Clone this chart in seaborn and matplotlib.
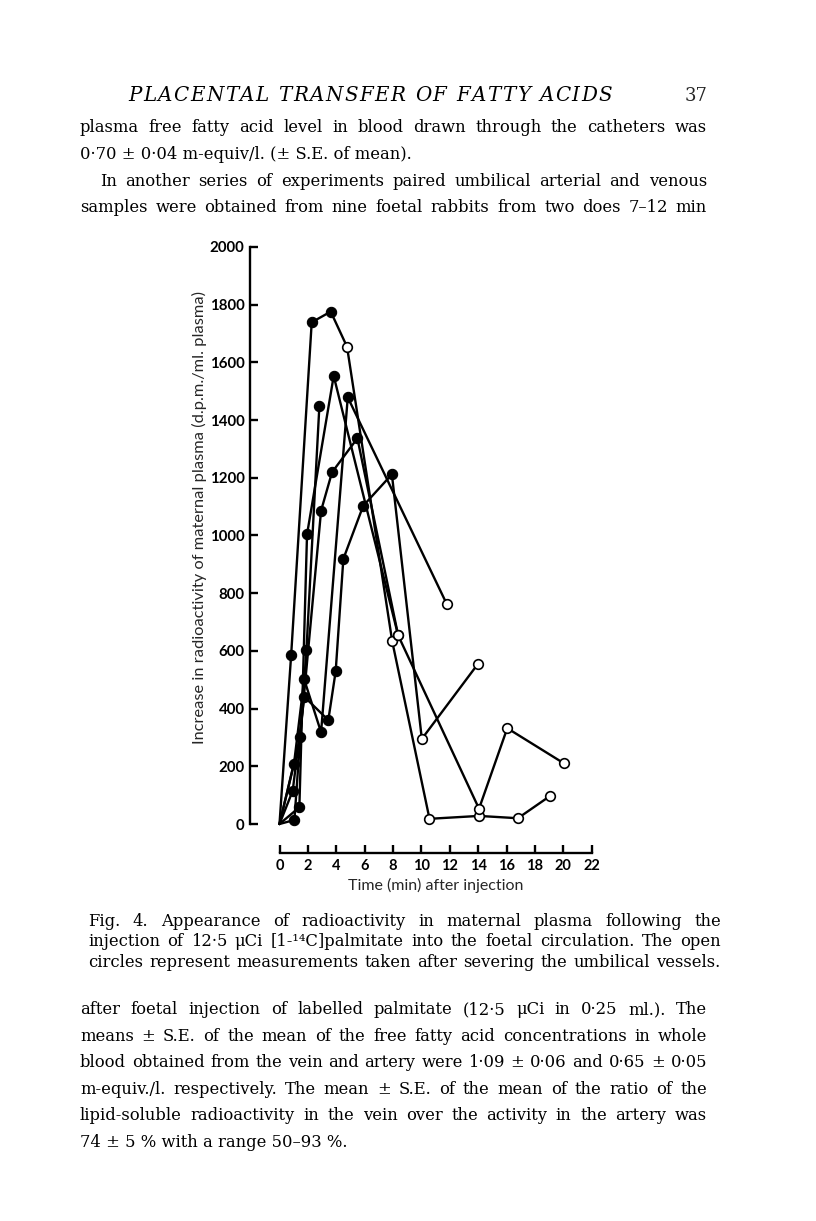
import numpy as np
import pandas as pd
import seaborn as sns
import matplotlib.pyplot as plt

# Fig. 4 values: time (min), increase in d.p.m./ml. plasma
# kind: n = no marker (origin), f = filled circle, o = open circle (cord severed)
s1_t = [0, 0.82, 2.27, 3.61, 4.76, 7.94, 10.57, 14.06, 16.8, 19.09]
s1_v = [0, 585, 1739, 1776, 1654, 634, 18, 28, 20, 98]
s1_k = ['n', 'f', 'f', 'f', 'o', 'o', 'o', 'o', 'o', 'o']

s2_t = [0, 1.05, 1.90, 2.81]
s2_v = [0, 14, 604, 1449]
s2_k = ['n', 'f', 'f', 'f']

s3_t = [0, 0.93, 1.75, 3.44, 3.96, 4.50, 5.90, 7.92, 10.03, 14.0]
s3_v = [0, 115, 441, 360, 530, 919, 1103, 1212, 295, 556]
s3_k = ['n', 'f', 'f', 'f', 'f', 'f', 'f', 'f', 'o', 'o']

s4_t = [0, 1.40, 1.94, 3.82, 8.36]
s4_v = [0, 58, 1004, 1553, 654]
s4_k = ['n', 'f', 'f', 'f', 'o']

s5_t = [0, 1.45, 2.93, 3.70, 5.49, 8.36, 14.06, 16.05, 20.05]
s5_v = [0, 300, 1086, 1219, 1337, 654, 53, 332, 210]
s5_k = ['n', 'f', 'f', 'f', 'f', 'o', 'o', 'o', 'o']

s6_t = [0, 1.02, 1.74, 2.93, 4.81, 11.8]
s6_v = [0, 208, 501, 318, 1479, 761]
s6_k = ['n', 'f', 'f', 'f', 'f', 'o']

x_ticks = list(range(0, 23, 2))
y_ticks = list(range(0, 2001, 200))

header = "PLACENTAL TRANSFER OF FATTY ACIDS"
top_lines = [
    "plasma free fatty acid level in blood drawn through the catheters was",
    "0·70 ± 0·04 m-equiv/l. (± S.E. of mean).",
    "In another series of experiments paired umbilical arterial and venous",
    "samples were obtained from nine foetal rabbits from two does 7–12 min",
]
caption_lines = [
    "Fig. 4. Appearance of radioactivity in maternal plasma following the",
    "injection of 12·5 μCi [1-¹⁴C]palmitate into the foetal circulation. The open",
    "circles represent measurements taken after severing the umbilical vessels.",
]
bottom_lines = [
    "after foetal injection of labelled palmitate (12·5 μCi in 0·25 ml.). The",
    "means ± S.E. of the mean of the free fatty acid concentrations in whole",
    "blood obtained from the vein and artery were 1·09 ± 0·06 and 0·65 ± 0·05",
    "m-equiv./l. respectively. The mean ± S.E. of the mean of the ratio of the",
    "lipid-soluble radioactivity in the vein over the activity in the artery was",
    "74 ± 5 % with a range 50–93 %.",
]

frames = []
for i, (t, v, k) in enumerate([(s1_t, s1_v, s1_k), (s2_t, s2_v, s2_k), (s3_t, s3_v, s3_k),
                               (s4_t, s4_v, s4_k), (s5_t, s5_v, s5_k), (s6_t, s6_v, s6_k)]):
    frames.append(pd.DataFrame({'animal': i, 'time': t, 'dpm': v, 'kind': k}))
df = pd.concat(frames, ignore_index=True)

sns.set_theme(style="ticks")
serif = ['DejaVu Serif']
sans = ['Lato', 'DejaVu Sans']

W, H = 816, 1221
fig = plt.figure(figsize=(W / 100, H / 100), dpi=100)
fig.patch.set_facecolor('white')

ax = fig.add_axes([279.5 / W, 1 - 824 / H, 312.2 / W, 577 / H])
ax.set_facecolor('white')

sns.lineplot(data=df, x='time', y='dpm', units='animal', estimator=None, sort=False,
             color='black', lw=1.7, ax=ax, clip_on=False, zorder=2)
sns.scatterplot(data=df[df.kind == 'f'], x='time', y='dpm', color='black', s=55,
                edgecolor='black', linewidth=0.8, ax=ax, clip_on=False, zorder=3)
sns.scatterplot(data=df[df.kind == 'o'], x='time', y='dpm', facecolor='white', s=48,
                edgecolor='black', linewidth=1.2, ax=ax, clip_on=False, zorder=3)

ax.set_xlim(0, 22)
ax.set_ylim(0, 2000)
sns.despine(ax=ax)
ax.spines['left'].set_position(('outward', 29.5 * 0.72))
ax.spines['bottom'].set_position(('outward', 29 * 0.72))
ax.spines['left'].set_bounds(0, 2000)
ax.spines['bottom'].set_bounds(0, 22)
for sp in ['left', 'bottom']:
    ax.spines[sp].set_linewidth(1.7)
    ax.spines[sp].set_color('black')

ax.set_xticks(x_ticks)
ax.set_yticks(y_ticks)
ax.tick_params(direction='in', length=6, width=1.7, colors='black', pad=4)
ax.set_xticklabels([str(v) for v in x_ticks], family=sans, fontweight='bold', fontsize=10.5)
ax.set_yticklabels([str(v) for v in y_ticks], family=sans, fontweight='bold', fontsize=10.8)
ax.set_xlabel("Time (min) after injection", family=sans, fontsize=11.5, labelpad=4)
ax.set_ylabel("Increase in radioactivity of maternal plasma (d.p.m./ml. plasma)",
              family=sans, fontsize=11.8)
ax.yaxis.set_label_coords(-0.232, 0.532)

renderer = fig.canvas.get_renderer()


def put(x, y, s, **kw):
    return fig.text(x / W, 1 - y / H, s, va='baseline', ha='left', **kw)


def text_w(s, **kw):
    t = put(0, 0, s, **kw)
    w = t.get_window_extent(renderer).width
    t.remove()
    return w


def fit_size(lines, width, **kw):
    return min(10 * width / text_w(line, fontsize=10, **kw) for line in lines)


def justify(line, x0, x1, y, **kw):
    words = line.split(' ')
    txts = [put(x0, y, w, **kw) for w in words]
    widths = [t.get_window_extent(renderer).width for t in txts]
    gap = (x1 - x0 - sum(widths)) / max(len(words) - 1, 1)
    x = x0
    for t, w in zip(txts, widths):
        t.set_x(x / W)
        x += w + gap


def spaced(line, x0, x1, y, **kw):
    # letter-spaced running head: extra tracking between every letter
    chars = list(line)
    widths = [text_w(c, **kw) if c != ' ' else 0 for c in chars]
    space = text_w('n n', **kw) - 2 * text_w('n', **kw)
    n_sp = chars.count(' ')
    track = (x1 - x0 - sum(widths) - n_sp * space) / (len(chars) - 1)
    x = x0
    for c, w in zip(chars, widths):
        if c != ' ':
            put(x, y, c, **kw)
            x += w + track
        else:
            x += space + track


body = dict(family=serif, color='black')
body['fontsize'] = fit_size(top_lines[:1] + bottom_lines[:5], 627 * 0.985, **body)
cap = dict(family=serif, color='black')
cap['fontsize'] = fit_size(caption_lines, 633 * 0.99, **cap)
head = dict(family=serif, color='black', style='italic', fontsize=body['fontsize'] * 1.22)

spaced(header, 128, 612, 101, **head)
put(707, 101, "37", family=serif, fontsize=body['fontsize'] * 1.1).set_ha('right')

justify(top_lines[0], 80, 707, 132, **body)
put(80, 159, top_lines[1], **body)
justify(top_lines[2], 100, 707, 186, **body)
justify(top_lines[3], 80, 707, 212, **body)

justify(caption_lines[0], 88, 721, 926, **cap)
justify(caption_lines[1], 88, 721, 946, **cap)
justify(caption_lines[2], 88, 720, 967, **cap)

for i, line in enumerate(bottom_lines):
    y = 1014 + i * 26.6
    if i < len(bottom_lines) - 1:
        justify(line, 80, 707, y, **body)
    else:
        put(80, y, line, **body)

fig.savefig('out.png', dpi=100, facecolor='white')
